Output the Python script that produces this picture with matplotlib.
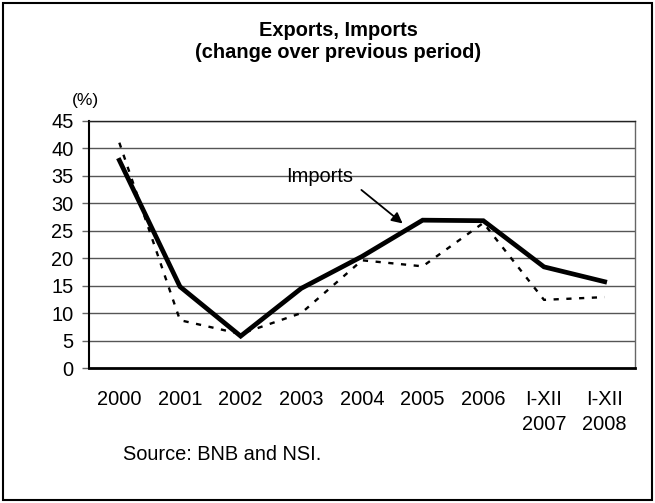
import matplotlib
matplotlib.use("Agg")
import matplotlib.pyplot as plt
from matplotlib.patches import Rectangle

plt.rcParams['font.family'] = ['Liberation Sans', 'DejaVu Sans']

categories = ["2000", "2001", "2002", "2003", "2004", "2005", "2006", "I-XII\n2007", "I-XII\n2008"]
imports = [37.8, 14.8, 5.8, 14.5, 20.3, 26.9, 26.8, 18.4, 15.7]
exports = [41.0, 8.7, 6.2, 10.0, 19.6, 18.5, 26.4, 12.4, 12.9]
yticks = [0, 5, 10, 15, 20, 25, 30, 35, 40, 45]

W, H = 655, 503
fig = plt.figure(figsize=(W / 100, H / 100), dpi=100)
ax = fig.add_axes([89 / W, 1 - 368 / H, (635 - 89) / W, (368 - 120.7) / H])

x = list(range(len(categories)))
ax.plot(x, exports, color='black', lw=1.7, linestyle=(0, (2.2, 3.2)), zorder=3)
ax.plot(x, imports, color='black', lw=3.4, solid_joinstyle='miter', zorder=4)

ax.set_xlim(-0.5, len(categories) - 0.5)
ax.set_ylim(0, 45)
ax.set_yticks(yticks)
ax.set_xticks(x)
ax.set_xticklabels(categories, fontsize=14.4, linespacing=1.4)
ax.tick_params(axis='x', length=0, pad=16)
ax.tick_params(axis='y', length=5, width=1, color='#666666', pad=6, labelsize=14.4)

for v in yticks[1:]:
    ax.axhline(v, color='#555555', lw=1.0, zorder=1)

ax.spines['left'].set_linewidth(1.5)
ax.spines['bottom'].set_linewidth(2.0)
ax.spines['top'].set_color('#222222')
ax.spines['top'].set_linewidth(1.0)
ax.spines['right'].set_color('#666666')
ax.spines['right'].set_linewidth(1.0)

ax.text(3.3, 34.8, "Imports", fontsize=14.4, ha='center', va='center', zorder=5)
ax.annotate("", xy=(4.67, 26.3), xytext=(3.99, 32.4),
            arrowprops=dict(arrowstyle='-|>', color='black', lw=1.3,
                            mutation_scale=16, shrinkA=0, shrinkB=0), zorder=5)

fig.text(338 / W, 1 - 30 / H, "Exports, Imports", fontsize=14.4, fontweight='bold',
         ha='center', va='center')
fig.text(338 / W, 1 - 52 / H, "(change over previous period)", fontsize=14.4,
         fontweight='bold', ha='center', va='center')
fig.text(85.5 / W, 1 - 100 / H, "(%)", fontsize=12.5, ha='center', va='center')
fig.text(123 / W, 1 - 455 / H, "Source: BNB and NSI.", fontsize=14.4,
         ha='left', va='center')

fig.patches.append(Rectangle((3 / W, 3 / H), (649) / W, (497) / H,
                             transform=fig.transFigure, fill=False,
                             edgecolor='black', lw=1.5))

fig.savefig("out.png", dpi=100)
